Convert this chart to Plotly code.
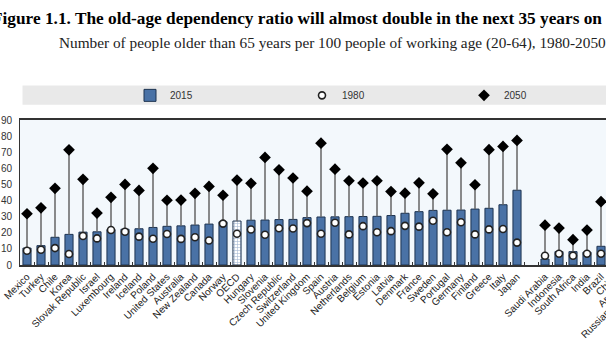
import plotly.graph_objects as go

# ---------------- data ----------------
countries = ["Mexico", "Turkey", "Chile", "Korea", "Slovak Republic", "Israel", "Luxembourg",
             "Ireland", "Iceland", "Poland", "United States", "Australia", "New Zealand",
             "Canada", "Norway", "OECD", "Hungary", "Slovenia", "Czech Republic", "Switzerland",
             "United Kingdom", "Spain", "Austria", "Netherlands", "Belgium", "Estonia", "Latvia",
             "Denmark", "France", "Sweden", "Portugal", "Germany", "Finland", "Greece", "Italy",
             "Japan", " ", "Saudi Arabia", "Indonesia", "South Africa", "India", "Brazil",
             "China", "Argentina", "Russian Federation"]

ratio_2015 = [10.5, 12.0, 17.2, 19.0, 20.4, 20.6, 22.0, 22.2, 22.5, 23.3, 24.0, 24.3, 24.8,
              25.4, 26.8, 27.3, 27.8, 27.9, 28.2, 28.3, 29.4, 29.8, 29.9, 30.0, 30.1, 30.2,
              30.7, 32.1, 33.1, 33.9, 34.0, 34.1, 34.7, 35.2, 37.4, 46.4, None, 3.7, 8.3,
              8.3, 8.0, 11.6, None, None, None]

ratio_1980 = [8.8, 9.5, 10.5, 6.8, 18.0, 16.5, 21.7, 20.6, 17.6, 16.3, 19.2, 16.2, 17.2,
              15.2, 25.7, 19.4, 22.0, 18.8, 22.8, 22.7, 26.0, 19.4, 26.2, 19.0, 24.1, 20.3,
              21.0, 24.3, 23.8, 27.5, 20.3, 26.5, 19.0, 22.1, 22.3, 13.9, None, 5.7, 7.0,
              5.7, 7.0, 7.0, None, None, None]

ratio_2050 = [31.8, 35.5, 47.6, 71.5, 53.2, 32.2, 42.0, 50.0, 46.3, 60.0, 40.2, 40.3, 44.5,
              48.8, 43.3, 52.7, 50.7, 66.8, 59.1, 54.0, 45.8, 75.6, 59.5, 52.3, 50.9, 52.3,
              45.6, 44.6, 51.0, 44.2, 71.8, 63.4, 49.8, 71.6, 73.6, 77.3, None, 24.7, 22.9,
              15.7, 21.7, 39.3, None, None, None]

y_ticks = [0, 10, 20, 30, 40, 50, 60, 70, 80, 90]

title_text = "Figure 1.1. The old-age dependency ratio will almost double in the next 35 years on"
subtitle_text = ("Number of people older than 65 years per 100 people of working age (20-64), "
                 "1980-2050")

# ---------------- layout geometry ----------------
W, H = 680, 340          # figure is wider than the 606px window; the page crops it
ML, MT, MB, MR = 20, 120, 67, 0
CAT_PX = 14
PLOT_W = W - ML - MR
PLOT_H = H - MT - MB
x_end = -0.5 + PLOT_W / CAT_PX


def px_x(p):
    return (p - ML) / PLOT_W


def px_y(p):
    return (H - MB - p) / PLOT_H


BAR_BLUE = "#4a72a6"
BAR_EDGE = "#1d3350"

pattern_shapes = ["+" if c == "OECD" else "" for c in countries]
pattern_bg = ["white" if c == "OECD" else BAR_BLUE for c in countries]

# connector segments from the higher of (1980, 2015) up to 2050
cx, cy = [], []
for c, a, b, h in zip(countries, ratio_1980, ratio_2015, ratio_2050):
    if h is None:
        continue
    lows = [v for v in (a, b) if v is not None]
    low = max(lows) if lows else 0
    cx += [c, c, None]
    cy += [low, h, None]

fig = go.Figure()
fig.add_trace(go.Bar(
    x=countries, y=ratio_2015, name="2015", legend="legend",
    marker=dict(color=BAR_BLUE, line=dict(color=BAR_EDGE, width=1),
                pattern=dict(shape=pattern_shapes, bgcolor=pattern_bg,
                             fgcolor=BAR_BLUE, size=3, solidity=0.35)),
    width=0.58,
))
fig.add_trace(go.Scatter(
    x=cx, y=cy, mode="lines", line=dict(color="#666666", width=1.5),
    showlegend=False, hoverinfo="skip",
))
fig.add_trace(go.Scatter(
    x=countries, y=ratio_1980, name="1980", mode="markers", legend="legend2",
    marker=dict(symbol="circle", size=7, color="white", line=dict(color="#222222", width=1.6)),
))
fig.add_trace(go.Scatter(
    x=countries, y=ratio_2050, name="2050", mode="markers", legend="legend3",
    marker=dict(symbol="diamond", size=9, color="black", line=dict(width=0)),
))

legend_font = dict(family="Liberation Sans, Arial, sans-serif", size=10, color="#333333")
leg_common = dict(orientation="h", xanchor="left", yanchor="middle", y=px_y(94),
                  bgcolor="rgba(0,0,0,0)", font=legend_font, itemwidth=30)

fig.update_layout(
    width=W, height=H,
    margin=dict(l=ML, r=MR, t=MT, b=MB, pad=0),
    paper_bgcolor="white",
    plot_bgcolor="#f3f8fc",
    bargap=0.42,
    legend=dict(x=px_x(130), **leg_common),
    legend2=dict(x=px_x(302), **leg_common),
    legend3=dict(x=px_x(464), **leg_common),
    xaxis=dict(
        type="category", categoryorder="array", categoryarray=countries,
        range=[-0.5, x_end], tickangle=-45,
        ticks="inside", tickson="boundaries", ticklen=3, tickcolor="#333333",
        showline=True, linecolor="#333333", linewidth=2, mirror=True,
        showgrid=False, zeroline=False,
        tickfont=dict(family="Liberation Sans, Arial, sans-serif", size=10, color="#222222"),
    ),
    yaxis=dict(
        range=[0, 90], tickvals=y_ticks, ticktext=[str(v) for v in y_ticks],
        showline=True, linecolor="#333333", linewidth=1,
        showgrid=False, zeroline=False, ticks="",
        ticklabelstandoff=5,
        tickfont=dict(family="Liberation Sans, Arial, sans-serif", size=10, color="#333333"),
    ),
    shapes=[dict(type="rect", xref="paper", yref="paper",
                 x0=px_x(22.5), x1=1.0, y0=px_y(104), y1=px_y(83.5),
                 fillcolor="#e9e9e9", line=dict(width=0), layer="below")],
    annotations=[
        dict(text="<b>" + title_text + "</b>", xref="paper", yref="paper",
             x=px_x(-10), y=px_y(13), xanchor="left", yanchor="middle", showarrow=False,
             font=dict(family="Liberation Serif, Times New Roman, serif", size=17.3,
                       color="black")),
        dict(text=subtitle_text, xref="paper", yref="paper",
             x=px_x(57), y=px_y(39), xanchor="left", yanchor="middle", showarrow=False,
             font=dict(family="Liberation Serif, Times New Roman, serif", size=15.3,
                       color="#222222")),
    ],
)

post = ("var gd=document.getElementById('{plot_id}');var p=gd.parentElement;"
        "p.style.width='606px';p.style.height='340px';p.style.overflow='hidden';"
        "document.documentElement.style.overflow='hidden';"
        "document.body.style.overflow='hidden';document.body.style.margin='0';")

fig.write_html("out.html", config={"displayModeBar": False}, post_script=post)
